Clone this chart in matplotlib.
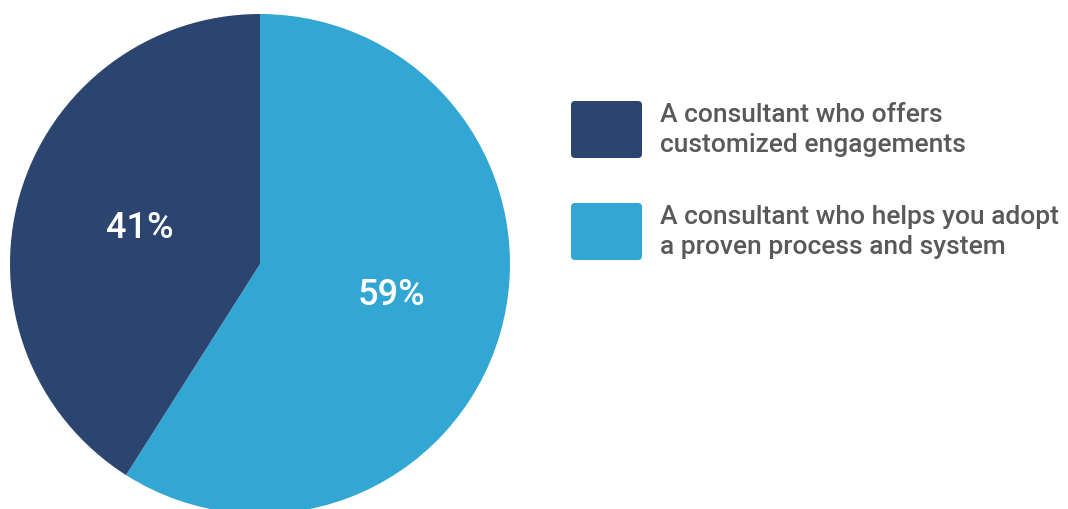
import matplotlib
matplotlib.use("Agg")
import matplotlib.pyplot as plt
from matplotlib.patches import FancyBboxPatch

# dados do gráfico
rotulos = ["A consultant who helps you adopt\na proven process and system",
           "A consultant who offers\ncustomized engagements"]
valores = [59, 41]
cores = ["#32A7D3", "#2C4570"]

# ordem da legenda (escuro primeiro)
legenda_ordem = [1, 0]

plt.rcParams['font.family'] = ['Roboto', 'DejaVu Sans']

fig = plt.figure(figsize=(10.68, 5.10), dpi=100)
ax = fig.add_axes([0, 0, 1, 1])

wedges, textos, pcts = ax.pie(valores, colors=cores, startangle=90, counterclock=False,
                              center=(260, 245), radius=250,
                              autopct=lambda p: f'{round(p)}%',
                              pctdistance=0.52, frame=True,
                              wedgeprops=dict(linewidth=0),
                              textprops=dict(color='white', fontsize=26, fontweight='medium'))
# pequenos ajustes dos rótulos
x, y = pcts[0].get_position()
pcts[0].set_position((x + 7, y + 6))
x, y = pcts[1].get_position()
pcts[1].set_position((x + 5, y))

ax.set_xlim(0, 1068)
ax.set_ylim(0, 510)
ax.set_aspect('equal')
ax.axis('off')

# legenda manual
y_topo = [408, 306]
for i, k in enumerate(legenda_ordem):
    y0 = y_topo[i]
    caixa = FancyBboxPatch((571 + 4, y0 - 57 + 4), 71 - 8, 57 - 8,
                           boxstyle="round,pad=4", facecolor=cores[k], edgecolor='none')
    ax.add_patch(caixa)
    ax.text(660, y0 - 28, rotulos[k], fontsize=19, color='#58595B',
            fontweight='medium', va='center', ha='left', linespacing=1.28)

plt.savefig('out.png', dpi=100)
